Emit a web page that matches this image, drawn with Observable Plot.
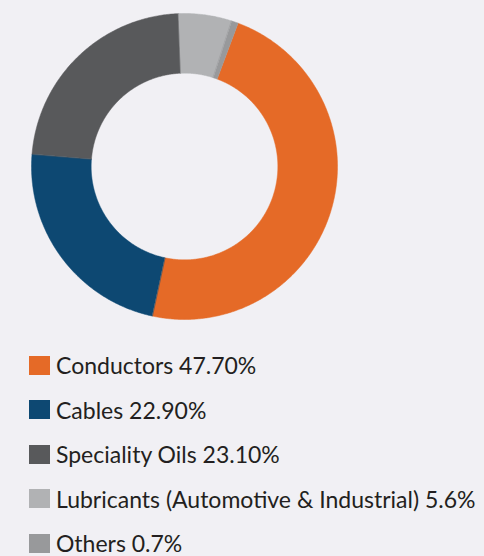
<!DOCTYPE html>
<html>
<head>
<meta charset="utf-8">
<script src="https://cdn.jsdelivr.net/npm/d3@7"></script>
<script src="https://cdn.jsdelivr.net/npm/@observablehq/plot@0.6"></script>
<style>
  html, body { margin: 0; padding: 0; background: #f1f0f4; }
  body { width: 484px; height: 556px; overflow: hidden; font-family: Lato, "Noto Sans", sans-serif; }
  #legend { padding-top: 13px; }
  .row { display: flex; align-items: center; height: 44.5px; margin-top: 0; }
  .row .sw { width: 21px; height: 19px; margin-left: 29px; margin-right: 6px; flex: none; }
  .row .lb { font-size: 23px; color: #231f20; white-space: nowrap; line-height: 20px; }
</style>
</head>
<body>
<div id="chart"></div>
<div id="legend"></div>
<script>
const categories = ["Conductors", "Cables", "Speciality Oils", "Lubricants (Automotive & Industrial)", "Others"];
const shares = [47.7, 22.9, 23.1, 5.6, 0.7];
const shareLabels = ["47.70%", "22.90%", "23.10%", "5.6%", "0.7%"];
const colors = ["#e56a27", "#0d4872", "#58595b", "#b1b2b4", "#98999b"];

const W = 484, H = 330, cx = 184, cy = 166, R = 153;
const innerRatio = 0.61;
const startDeg = 20.5;

const pie = d3.pie().sort(null).value(d => d.value)
  .startAngle(startDeg * Math.PI / 180)
  .endAngle((startDeg + 360) * Math.PI / 180);
const arcs = pie(categories.map((c, i) => ({category: c, value: shares[i]})));

const pts = [];
for (const a of arcs) {
  const n = Math.max(4, Math.ceil((a.endAngle - a.startAngle) * 180 / Math.PI * 2));
  const ring = [];
  for (let k = 0; k <= n; k++) {
    const t = a.startAngle + (a.endAngle - a.startAngle) * k / n;
    ring.push({category: a.data.category, x: Math.sin(t), y: Math.cos(t)});
  }
  for (let k = n; k >= 0; k--) {
    const t = a.startAngle + (a.endAngle - a.startAngle) * k / n;
    ring.push({category: a.data.category, x: innerRatio * Math.sin(t), y: innerRatio * Math.cos(t)});
  }
  pts.push(...ring);
}

const chart = Plot.plot({
  width: W, height: H,
  margin: 0,
  style: {background: "transparent"},
  x: {domain: [-cx / R, (W - cx) / R], axis: null},
  y: {domain: [-(H - cy) / R, cy / R], axis: null},
  color: {domain: categories, range: colors},
  marks: [
    Plot.line(pts, {x: "x", y: "y", z: "category", fill: "category", stroke: "category", strokeWidth: 0.5, curve: "linear-closed"})
  ]
});
document.getElementById("chart").append(chart);

const legend = d3.select("#legend");
categories.forEach((c, i) => {
  const row = legend.append("div").attr("class", "row");
  row.append("div").attr("class", "sw").style("background", colors[i]);
  row.append("div").attr("class", "lb").text(c + " " + shareLabels[i]);
});
</script>
</body>
</html>
